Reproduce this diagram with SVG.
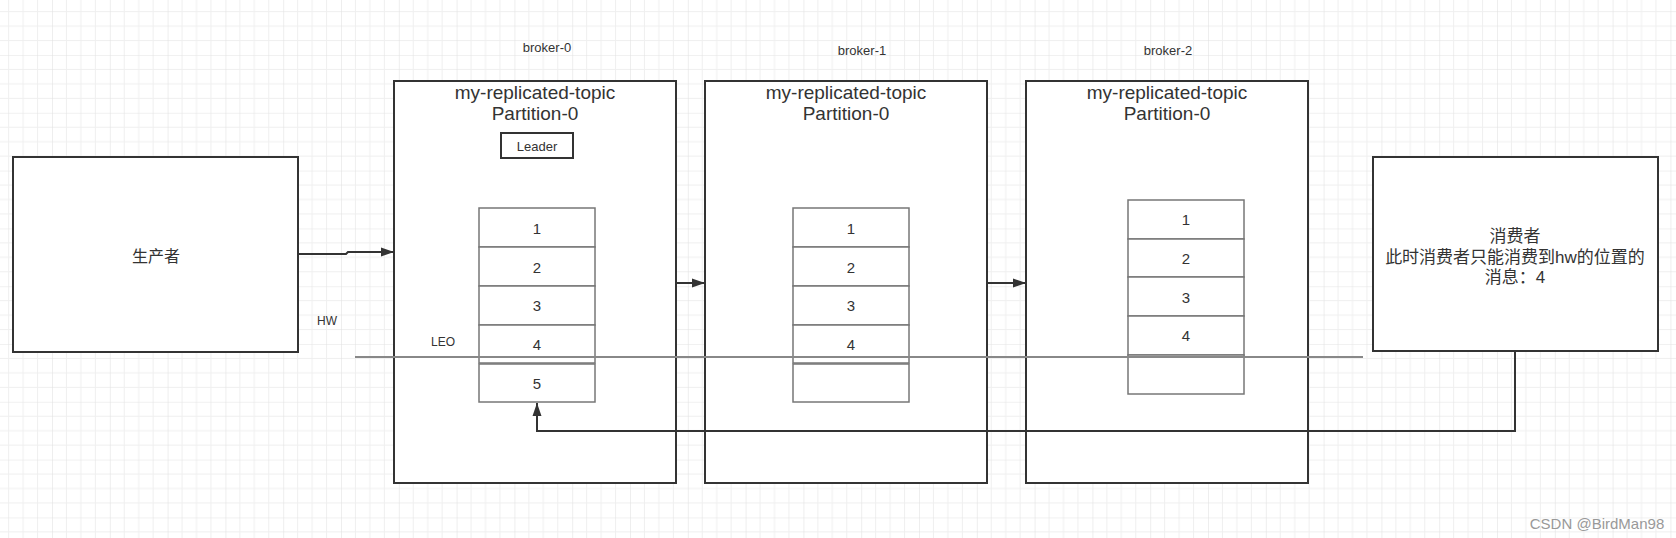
<svg xmlns="http://www.w3.org/2000/svg" width="1676" height="538" viewBox="0 0 1676 538">
<style>
text{font-family:"Liberation Sans","Noto Sans CJK SC",sans-serif;fill:#333;text-anchor:middle;dominant-baseline:central}
.box{fill:#fff;stroke:#333;stroke-width:2}
.cell{fill:#fff;stroke:#777;stroke-width:1.5}
.title{font-size:19px}
.small{font-size:12px}
.num{font-size:15px}
.cn{font-size:16px}
.conn{fill:none;stroke:#333;stroke-width:2}
</style>
<defs>
<pattern id="grid" x="52" y="55" width="57.8" height="57.8" patternUnits="userSpaceOnUse">
<path d="M14.45 0V57.8M28.9 0V57.8M43.35 0V57.8M0 14.45H57.8M0 28.9H57.8M0 43.35H57.8" stroke="#efefef" stroke-width="1" fill="none"/>
<path d="M0 0V57.8M0 0H57.8" stroke="#e3e3e3" stroke-width="1.2" fill="none"/>
</pattern>
<marker id="arr" viewBox="0 0 13 10" refX="13" refY="5" markerWidth="13" markerHeight="10" markerUnits="userSpaceOnUse" orient="auto">
<path d="M0 0.5L13 5L0 9.5Z" fill="#333"/>
</marker>
</defs>
<rect width="1676" height="538" fill="#fff"/>
<rect width="1676" height="538" fill="url(#grid)"/>

<g id="producer">
<rect class="box" x="13" y="157" width="285" height="195"/>
<text class="cn" x="156" y="256">生产者</text>
</g>

<g id="broker-0">
<text class="small" x="547" y="47" style="font-size:13px">broker-0</text>
<rect class="box" x="394" y="81" width="282" height="402"/>
<text class="title" x="535" y="92">my-replicated-topic</text>
<text class="title" x="535" y="113">Partition-0</text>
<rect x="501" y="133" width="72" height="25" fill="#fff" stroke="#333" stroke-width="2"/>
<text x="537" y="146" style="font-size:13px">Leader</text>
<rect class="cell" x="479" y="208" width="116" height="39"/>
<rect class="cell" x="479" y="247" width="116" height="39"/>
<rect class="cell" x="479" y="286" width="116" height="39"/>
<rect class="cell" x="479" y="325" width="116" height="38"/>
<rect class="cell" x="479" y="364" width="116" height="38"/>
<text class="num" x="537" y="228">1</text>
<text class="num" x="537" y="267">2</text>
<text class="num" x="537" y="305">3</text>
<text class="num" x="537" y="344">4</text>
<text class="num" x="537" y="383">5</text>
</g>

<g id="broker-1">
<text class="small" x="862" y="50" style="font-size:13px">broker-1</text>
<rect class="box" x="705" y="81" width="282" height="402"/>
<text class="title" x="846" y="92">my-replicated-topic</text>
<text class="title" x="846" y="113">Partition-0</text>
<rect class="cell" x="793" y="208" width="116" height="39"/>
<rect class="cell" x="793" y="247" width="116" height="39"/>
<rect class="cell" x="793" y="286" width="116" height="39"/>
<rect class="cell" x="793" y="325" width="116" height="38"/>
<rect class="cell" x="793" y="364" width="116" height="38"/>
<text class="num" x="851" y="228">1</text>
<text class="num" x="851" y="267">2</text>
<text class="num" x="851" y="305">3</text>
<text class="num" x="851" y="344">4</text>
</g>

<g id="broker-2">
<text class="small" x="1168" y="50" style="font-size:13px">broker-2</text>
<rect class="box" x="1026" y="81" width="282" height="402"/>
<text class="title" x="1167" y="92">my-replicated-topic</text>
<text class="title" x="1167" y="113">Partition-0</text>
<rect class="cell" x="1128" y="200" width="116" height="39"/>
<rect class="cell" x="1128" y="239" width="116" height="38"/>
<rect class="cell" x="1128" y="277" width="116" height="39"/>
<rect class="cell" x="1128" y="316" width="116" height="39"/>
<rect class="cell" x="1128" y="355" width="116" height="39"/>
<text class="num" x="1186" y="219">1</text>
<text class="num" x="1186" y="258">2</text>
<text class="num" x="1186" y="297">3</text>
<text class="num" x="1186" y="335">4</text>
</g>

<g id="consumer">
<rect class="box" x="1373" y="157" width="285" height="194"/>
<text x="1515" y="236" style="font-size:17px">消费者</text>
<text x="1515" y="257" style="font-size:17px">此时消费者只能消费到hw的位置的</text>
<text x="1515" y="277" style="font-size:17px">消息：4</text>
</g>

<g id="labels">
<text class="small" x="327" y="321">HW</text>
<text class="small" x="443" y="342">LEO</text>
<line x1="355" y1="357" x2="1363" y2="357" stroke="#888" stroke-width="2"/>
</g>

<g id="connectors">
<path class="conn" d="M298 254H346L348 252H394" marker-end="url(#arr)"/>
<path class="conn" d="M676 283H705" marker-end="url(#arr)"/>
<path class="conn" d="M987 283H1026" marker-end="url(#arr)"/>
<path class="conn" d="M1515 351V431H537V403" marker-end="url(#arr)"/>
</g>

<text x="1597" y="523" style="font-size:15px;fill:#999">CSDN @BirdMan98</text>
</svg>
